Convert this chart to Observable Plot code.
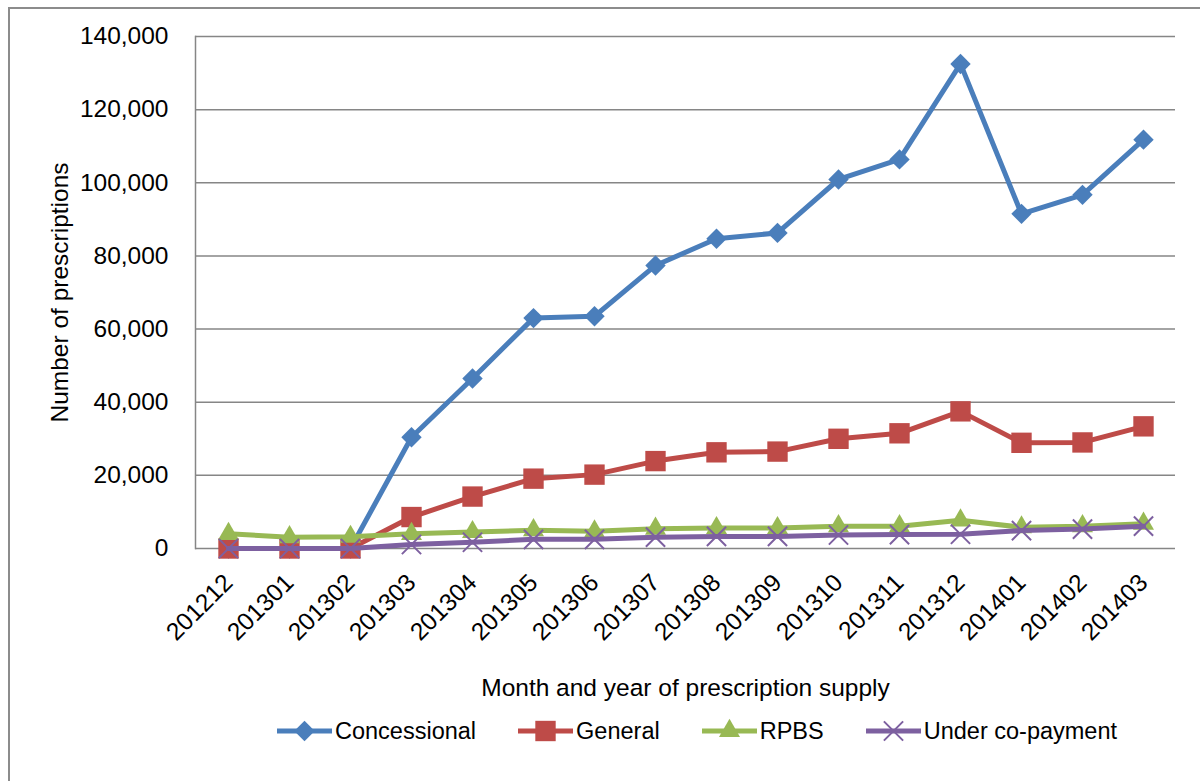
<!DOCTYPE html>
<html>
<head>
<meta charset="utf-8">
<script src="https://cdn.jsdelivr.net/npm/d3@7"></script>
<script src="https://cdn.jsdelivr.net/npm/@observablehq/plot@0.6"></script>
<style>
  body { margin: 0; background: #fff; font-family: "Liberation Sans", Arial, sans-serif; }
  #chart { position: relative; width: 1200px; height: 781px; overflow: hidden; background: #fff; }
  #chart > svg { position: absolute; left: 0; top: 0; }
  #border { position: absolute; left: 8px; top: 7px; width: 1220px; height: 800px; border: 2px solid #8c8c8c; box-sizing: border-box; pointer-events: none; }
  #legend { position: absolute; left: 277px; top: 713px; height: 36px; display: flex; align-items: center; font-size: 23.5px; color: #000; white-space: nowrap; }
  #legend .item { display: flex; align-items: center; margin-right: 42px; }
  #legend .item svg { display: block; }
  #legend .item span { margin-left: 3px; }
</style>
</head>
<body>
<div id="chart">
  <div id="border"></div>
  <div id="legend"></div>
</div>
<script>
// Month of supply (YYYYMM)
const months = ["201212","201301","201302","201303","201304","201305","201306","201307",
                "201308","201309","201310","201311","201312","201401","201402","201403"];

// Number of prescriptions per month, by patient category
const concessional = [0, 0, 0, 30400, 46500, 63000, 63500, 77400, 84700, 86300, 100900, 106400, 132500, 91500, 96700, 111800];
const general      = [0, 0, 0, 8600, 14200, 19100, 20200, 23900, 26300, 26500, 30000, 31500, 37500, 28900, 29000, 33400];
const rpbs         = [4000, 3100, 3200, 4000, 4500, 5000, 4700, 5400, 5600, 5600, 6100, 6100, 7700, 5800, 6100, 6800];
const underCopay   = [0, 0, 0, 1100, 1700, 2500, 2500, 3100, 3300, 3300, 3700, 3800, 3900, 4900, 5300, 6100];

const seriesNames = ["Concessional", "General", "RPBS", "Under co-payment"];
const yTicks = [0, 20000, 40000, 60000, 80000, 100000, 120000, 140000];

const series = [
  {name: seriesNames[0], values: concessional, color: "#4a7ebb", symbol: "diamond2", r: 9.2, filled: true},
  {name: seriesNames[1], values: general,      color: "#be4b48", symbol: "square",   r: 11.5, filled: true},
  {name: seriesNames[2], values: rpbs,         color: "#98b954", symbol: "triangle", r: 7.8, filled: true},
  {name: seriesNames[3], values: underCopay,   color: "#7d60a0", symbol: "times",    r: 8.8, filled: false}
];

const font = "'Liberation Sans', Arial, sans-serif";
const fs = 24.5;

const seriesMarks = series.flatMap(s => {
  const rows = months.map((m, i) => ({month: m, value: s.values[i]}));
  return [
    Plot.line(rows, {x: "month", y: "value", stroke: s.color, strokeWidth: 5, strokeLinejoin: "round"}),
    s.filled
      ? Plot.dot(rows, {x: "month", y: "value", symbol: () => s.symbol, r: s.r, fill: s.color, stroke: "none"})
      : Plot.dot(rows, {x: "month", y: "value", symbol: () => s.symbol, r: s.r, stroke: s.color, strokeWidth: 2, fill: "none"})
  ];
});

const chart = Plot.plot({
  width: 1200,
  height: 781,
  marginLeft: 195,
  marginRight: 25,
  marginTop: 36,
  marginBottom: 233,
  style: {fontFamily: font, fontSize: fs + "px", color: "#000", background: "transparent", overflow: "visible"},
  x: {type: "point", domain: months},
  y: {domain: [0, 140000]},
  symbol: {type: "identity"},
  marks: [
    Plot.gridY(yTicks, {stroke: "#868686", strokeOpacity: 1, strokeWidth: 1.5}),
    Plot.frame({anchor: "left", stroke: "#868686", strokeWidth: 1.5}),
    Plot.axisY(yTicks, {tickSize: 0, tickPadding: 27, tickFormat: d3.format(","), label: null, fontSize: fs, fill: "#000"}),
    Plot.axisX({tickRotate: -45, tickSize: 0, tickPadding: 30, label: null, fontSize: fs, fill: "#000"}),
    ...seriesMarks,
    Plot.text(["Number of prescriptions"], {text: d => d, frameAnchor: "left", dx: -135, rotate: -90,
      textAnchor: "middle", lineAnchor: "middle", fontSize: fs, fill: "#000"}),
    Plot.text(["Month and year of prescription supply"], {text: d => d, frameAnchor: "bottom", dy: 140,
      textAnchor: "middle", lineAnchor: "middle", fontSize: fs, fill: "#000"})
  ]
});

document.getElementById("chart").insertBefore(chart, document.getElementById("border"));

// Legend: line swatch with the series marker, then the series name
const legend = d3.select("#legend");
for (const s of series) {
  const item = legend.append("div").attr("class", "item");
  const sw = item.append("svg").attr("width", 55).attr("height", 26);
  sw.append("line").attr("x1", 0).attr("x2", 55).attr("y1", 13).attr("y2", 13)
    .attr("stroke", s.color).attr("stroke-width", 5);
  const symbolType = {diamond2: d3.symbolDiamond2, square: d3.symbolSquare, triangle: d3.symbolTriangle, times: d3.symbolTimes}[s.symbol];
  const path = d3.symbol(symbolType, Math.PI * s.r * s.r)();
  const p = sw.append("path").attr("d", path).attr("transform", "translate(27.5,13)");
  if (s.filled) p.attr("fill", s.color);
  else p.attr("fill", "none").attr("stroke", s.color).attr("stroke-width", 2);
  item.append("span").text(s.name);
}
</script>
</body>
</html>
